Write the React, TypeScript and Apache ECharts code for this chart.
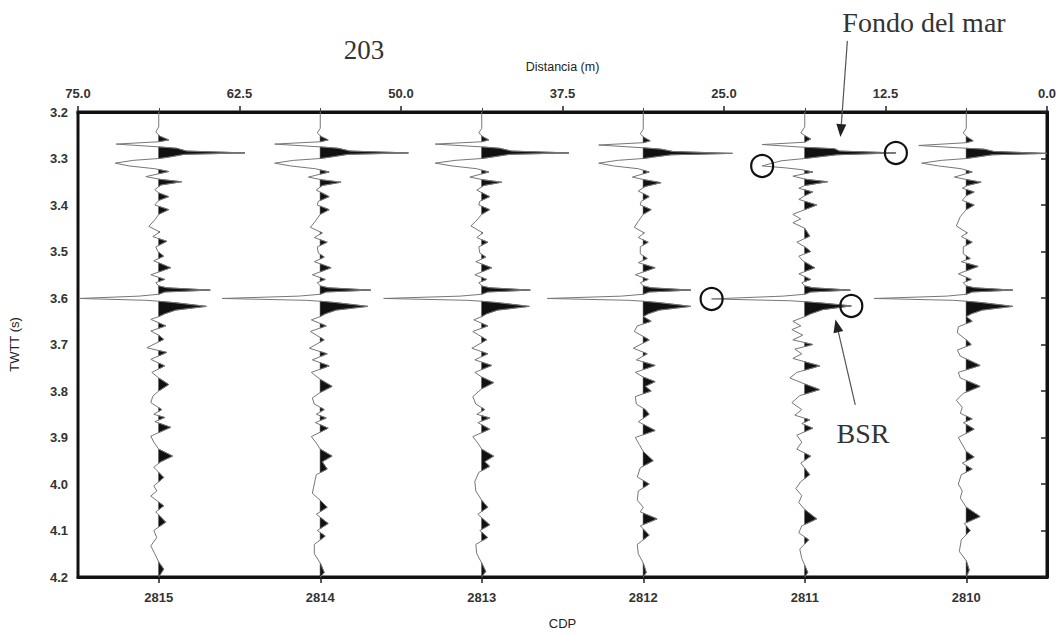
import React, { useEffect, useRef } from "react";
import * as echarts from "echarts";

// CDP positions of the traces (bottom axis)
const cdps = [2815, 2814, 2813, 2812, 2811, 2810];
const cdpRange = [2809.5, 2815.5];
// Distance axis (top)
const distanceRange = [0, 75];
const distanceStep = 12.5;
// Time axis
const twttRange = [3.2, 4.2];
const twttStep = 0.1;

// Trace samples: [TWTT (s), amplitude] (amplitude positive = black fill, to the right)
const trace2815: [number, number][] = [[3.2,0],[3.232,0],[3.243,-3],[3.252,1],[3.26,10],[3.264,0],[3.269,-43],[3.275,0],[3.278,18],[3.284,28],[3.288,87],[3.291,26],[3.297,10],[3.3,0],[3.304,-26],[3.31,-44],[3.316,-30],[3.322,-4],[3.328,10],[3.339,-13],[3.345,2],[3.35,23],[3.357,2],[3.367,-4],[3.374,0],[3.382,10],[3.39,0],[3.4,-4],[3.41,10],[3.42,0],[3.432,-4],[3.446,-10],[3.458,1],[3.468,-6],[3.478,8],[3.49,-3],[3.5,-1],[3.51,5],[3.52,-5],[3.535,12],[3.55,-8],[3.56,6],[3.567,-3],[3.574,0],[3.578,8],[3.583,52],[3.587,6],[3.592,0],[3.596,-20],[3.601,-80],[3.605,-12],[3.607,0],[3.61,16],[3.618,48],[3.626,17],[3.634,6],[3.64,0],[3.646,-8],[3.66,7],[3.671,-8],[3.68,0],[3.689,5],[3.707,-12],[3.717,8],[3.732,-8],[3.746,6],[3.76,-7],[3.772,0],[3.786,10],[3.8,0],[3.811,-6],[3.825,-8],[3.84,3],[3.85,-5],[3.857,6],[3.866,-4],[3.878,12],[3.897,-8],[3.91,-5],[3.925,0],[3.94,14],[3.952,2],[3.964,-5],[3.986,5],[4.004,-5],[4.015,-2],[4.026,-8],[4.047,5],[4.06,-3],[4.082,7],[4.1,-5],[4.115,-2],[4.133,-8],[4.15,-4],[4.168,0],[4.183,5],[4.2,0]];
const trace2814: [number, number][] = [[3.2,0],[3.235,0],[3.245,-3],[3.253,1],[3.26,8],[3.264,0],[3.269,-46],[3.275,0],[3.278,18],[3.284,30],[3.288,89],[3.291,28],[3.297,10],[3.3,0],[3.304,-27],[3.31,-46],[3.316,-30],[3.322,-5],[3.329,9],[3.34,-12],[3.346,2],[3.351,21],[3.358,2],[3.368,-4],[3.382,9],[3.392,-2],[3.4,-3],[3.41,9],[3.42,0],[3.435,-5],[3.448,-10],[3.46,2],[3.47,-6],[3.48,7],[3.49,-3],[3.503,-2],[3.512,4],[3.522,-6],[3.535,11],[3.55,-8],[3.56,5],[3.567,-3],[3.574,0],[3.578,8],[3.583,51],[3.587,6],[3.592,0],[3.596,-22],[3.601,-99],[3.605,-14],[3.607,0],[3.61,16],[3.618,48],[3.626,16],[3.634,5],[3.64,0],[3.647,-9],[3.66,6],[3.672,-10],[3.69,4],[3.708,-11],[3.72,7],[3.733,-8],[3.746,9],[3.76,-9],[3.775,0],[3.79,12],[3.803,0],[3.815,-8],[3.828,-6],[3.84,4],[3.85,-4],[3.858,6],[3.868,-5],[3.88,8],[3.898,-9],[3.912,-4],[3.925,0],[3.94,12],[3.952,2],[3.968,7],[3.98,-4],[4.0,-6],[4.02,-8],[4.035,0],[4.05,7],[4.065,-4],[4.085,8],[4.1,-3],[4.112,5],[4.13,-6],[4.15,-6],[4.17,0],[4.19,4],[4.2,0]];
const trace2813: [number, number][] = [[3.2,0],[3.235,0],[3.245,-3],[3.253,1],[3.26,7],[3.264,0],[3.269,-47],[3.275,0],[3.278,18],[3.284,30],[3.288,88],[3.291,28],[3.297,10],[3.3,0],[3.304,-27],[3.31,-47],[3.316,-30],[3.322,-5],[3.329,7],[3.34,-12],[3.346,2],[3.351,20],[3.358,2],[3.368,-5],[3.382,8],[3.392,-2],[3.4,-3],[3.41,8],[3.42,0],[3.435,-6],[3.445,-11],[3.46,1],[3.47,-5],[3.48,6],[3.49,-3],[3.503,-2],[3.512,4],[3.522,-6],[3.535,10],[3.55,-7],[3.56,5],[3.567,-3],[3.574,0],[3.578,8],[3.583,49],[3.587,6],[3.592,0],[3.596,-22],[3.601,-99],[3.605,-14],[3.607,0],[3.61,16],[3.618,48],[3.626,16],[3.634,5],[3.64,0],[3.647,-8],[3.66,6],[3.672,-9],[3.69,5],[3.708,-10],[3.72,6],[3.733,-7],[3.745,10],[3.76,-7],[3.77,0],[3.782,12],[3.795,0],[3.812,-9],[3.828,-6],[3.84,3],[3.85,-5],[3.858,8],[3.868,-4],[3.882,8],[3.898,-9],[3.912,-4],[3.925,0],[3.94,12],[3.952,3],[3.962,8],[3.975,-3],[3.995,-7],[4.015,-6],[4.035,0],[4.05,6],[4.065,-4],[4.088,8],[4.1,-2],[4.115,6],[4.13,-6],[4.15,-5],[4.17,0],[4.188,4],[4.2,0]];
const trace2812: [number, number][] = [[3.2,0],[3.237,0],[3.247,-3],[3.255,1],[3.262,7],[3.266,0],[3.271,-45],[3.277,0],[3.28,18],[3.285,30],[3.289,90],[3.292,28],[3.297,10],[3.3,0],[3.304,-26],[3.31,-45],[3.316,-30],[3.322,-5],[3.329,6],[3.34,-11],[3.346,2],[3.352,18],[3.36,2],[3.37,-5],[3.382,6],[3.392,-2],[3.4,-3],[3.41,8],[3.42,0],[3.435,-5],[3.448,-9],[3.46,1],[3.47,-5],[3.48,5],[3.49,-3],[3.505,-3],[3.515,4],[3.524,-5],[3.535,12],[3.55,-8],[3.56,5],[3.567,-3],[3.574,0],[3.578,8],[3.583,48],[3.587,6],[3.592,0],[3.596,-22],[3.601,-97],[3.605,-14],[3.607,0],[3.61,16],[3.618,48],[3.626,16],[3.634,5],[3.64,0],[3.65,8],[3.66,-6],[3.672,-9],[3.69,6],[3.708,-10],[3.72,4],[3.733,-7],[3.745,12],[3.76,-8],[3.77,0],[3.78,12],[3.79,2],[3.8,8],[3.812,-8],[3.828,-7],[3.84,2],[3.85,6],[3.866,-5],[3.885,12],[3.9,-8],[3.915,-4],[3.93,0],[3.95,10],[3.965,-3],[3.985,-6],[4.0,6],[4.015,-5],[4.035,-6],[4.05,0],[4.06,-3],[4.075,14],[4.09,-3],[4.11,6],[4.13,-6],[4.15,-5],[4.17,0],[4.19,3],[4.2,0]];
const trace2811: [number, number][] = [[3.2,0],[3.232,0],[3.245,-4],[3.252,1],[3.258,6],[3.265,0],[3.27,-43],[3.276,0],[3.279,30],[3.284,35],[3.288,92],[3.292,32],[3.297,12],[3.3,0],[3.305,-24],[3.316,-43],[3.32,-20],[3.324,-3],[3.329,8],[3.338,-12],[3.345,2],[3.35,23],[3.358,0],[3.364,-6],[3.372,8],[3.38,0],[3.388,-6],[3.4,12],[3.41,0],[3.42,-12],[3.43,-4],[3.438,-12],[3.45,0],[3.467,5],[3.48,-8],[3.49,0],[3.5,6],[3.51,-6],[3.52,-2],[3.535,10],[3.548,-6],[3.56,6],[3.567,-3],[3.574,0],[3.578,8],[3.583,46],[3.587,6],[3.592,0],[3.596,-22],[3.602,-94],[3.606,-14],[3.608,0],[3.611,18],[3.617,47],[3.625,18],[3.634,6],[3.64,0],[3.65,-12],[3.66,-4],[3.668,-13],[3.68,-2],[3.69,-12],[3.7,8],[3.71,-10],[3.72,-3],[3.73,-12],[3.746,15],[3.76,-8],[3.772,-15],[3.785,0],[3.797,15],[3.81,-5],[3.825,-13],[3.84,-3],[3.852,-10],[3.862,5],[3.87,-3],[3.88,8],[3.895,-8],[3.91,-3],[3.925,-8],[3.94,6],[3.955,-4],[3.98,5],[3.995,-4],[4.01,-9],[4.025,-3],[4.04,-6],[4.055,0],[4.075,12],[4.09,-3],[4.105,-6],[4.12,4],[4.14,-5],[4.16,-3],[4.175,0],[4.19,3],[4.2,0]];
const trace2810: [number, number][] = [[3.2,0],[3.235,0],[3.245,-3],[3.254,1],[3.262,7],[3.266,0],[3.272,-48],[3.278,0],[3.28,18],[3.285,28],[3.289,82],[3.292,26],[3.297,10],[3.3,0],[3.304,-25],[3.31,-45],[3.316,-28],[3.322,-5],[3.329,6],[3.34,-12],[3.346,2],[3.351,15],[3.358,1],[3.364,-4],[3.372,8],[3.38,0],[3.39,-4],[3.4,8],[3.41,0],[3.425,-6],[3.445,-10],[3.46,1],[3.468,-5],[3.48,6],[3.49,-3],[3.505,-3],[3.515,4],[3.522,-5],[3.532,12],[3.548,-8],[3.56,5],[3.567,-3],[3.574,0],[3.578,8],[3.583,47],[3.587,6],[3.592,0],[3.596,-20],[3.601,-93],[3.605,-13],[3.607,0],[3.61,16],[3.618,47],[3.626,16],[3.634,5],[3.64,0],[3.65,6],[3.662,-8],[3.675,-9],[3.69,0],[3.7,5],[3.712,-9],[3.725,-6],[3.745,14],[3.76,-8],[3.772,-6],[3.79,14],[3.805,-3],[3.82,-10],[3.835,-4],[3.848,-6],[3.86,6],[3.868,-3],[3.882,8],[3.9,-8],[3.915,-4],[3.93,0],[3.942,8],[3.955,-4],[3.968,6],[3.98,-5],[4.0,-8],[4.015,-4],[4.03,-6],[4.05,0],[4.07,14],[4.085,-2],[4.1,4],[4.12,-5],[4.145,-7],[4.165,0],[4.185,3],[4.2,0]];

const traces = [trace2815, trace2814, trace2813, trace2812, trace2811, trace2810];

// amplitude -> CDP offset
const GAIN = 1 / 163;

// Highlighted picks (circles) on trace 2811: [cdp, twtt, amplitude]
const circlePicks: [number, number, number][] = [
  [2811, 3.288, 92],
  [2811, 3.316, -43],
  [2811, 3.602, -94],
  [2811, 3.617, 47],
];
// Arrows: [cdp, twtt, amp] tail -> tip
const arrows: { from: [number, number, number]; to: [number, number, number] }[] = [
  { from: [2811, 3.047, 43], to: [2811, 3.254, 36] },
  { from: [2811, 3.83, 51], to: [2811, 3.646, 31] },
];

const FONT = '"Liberation Sans", Arial, Helvetica, sans-serif';
const SERIF = '"Liberation Serif", "Times New Roman", serif';

export default function App() {
  const ref = useRef<HTMLDivElement>(null);
  useEffect(() => {
    if (!ref.current) return;
    const chart = echarts.init(ref.current, null, { renderer: "svg" });

    const renderItem = (params: any, api: any) => {
      const cdp = api.value(0);
      const idx = api.value(2);
      const pts = traces[idx];
      const P = (t: number, a: number) => api.coord([cdp - a * GAIN, t]);
      const line = pts.map(([t, a]) => P(t, a));
      const polys: number[][][] = [];
      let cur: number[][] | null = null;
      for (let k = 0; k < pts.length; k++) {
        const [t, a] = pts[k];
        if (k > 0) {
          const [t0, a0] = pts[k - 1];
          if ((a0 > 0) !== (a > 0)) {
            const f = a0 / (a0 - a);
            const tc = t0 + f * (t - t0);
            const p = P(tc, 0);
            if (a0 > 0) {
              if (cur) { cur.push(p); polys.push(cur); }
              cur = null;
            } else {
              cur = [p];
            }
          }
        }
        if (a > 0) {
          if (!cur) cur = [P(t, 0)];
          cur.push(P(t, a));
        }
      }
      if (cur) { cur.push(P(pts[pts.length - 1][0], 0)); polys.push(cur); }
      const children: any[] = polys.map((poly) => ({
        type: "polygon",
        shape: { points: poly },
        style: { fill: "#111", stroke: "#111", lineWidth: 0.6 },
      }));
      children.push({
        type: "polyline",
        shape: { points: line },
        style: { stroke: "#777", lineWidth: 1, fill: null },
      });
      return { type: "group", children };
    };

    const tickLabel = { fontFamily: FONT, fontSize: 13, fontWeight: "bold", color: "#333" };
    const nameStyle = { fontFamily: FONT, fontSize: 13, color: "#222" };

    const option: any = {
      animation: false,
      backgroundColor: "#fff",
      grid: { left: 68, right: 17, top: 112, bottom: 57, show: true, borderColor: "#111", borderWidth: 3 },
      xAxis: [
        {
          type: "value",
          min: cdpRange[0],
          max: cdpRange[1],
          inverse: true,
          position: "bottom",
          name: "CDP",
          nameLocation: "middle",
          nameGap: 40,
          nameTextStyle: nameStyle,
          axisLine: { show: true, lineStyle: { color: "#111", width: 3 } },
          axisTick: { show: true, customValues: cdps, length: 6, lineStyle: { color: "#222", width: 1.5 } },
          axisLabel: { customValues: cdps, formatter: (v: number) => String(Math.round(v)), ...tickLabel, margin: 14 },
          splitLine: { show: false },
        },
        {
          type: "value",
          min: distanceRange[0],
          max: distanceRange[1],
          interval: distanceStep,
          inverse: true,
          position: "top",
          name: "Distancia (m)",
          nameLocation: "middle",
          nameGap: 39,
          nameTextStyle: { ...nameStyle, fontSize: 12.5 },
          axisLine: { show: true, lineStyle: { color: "#111", width: 3 } },
          axisTick: { show: true, length: 6, lineStyle: { color: "#222", width: 1.5 } },
          minorTick: { show: true, splitNumber: 2, length: 4, lineStyle: { color: "#444", width: 1 } },
          axisLabel: { formatter: (v: number) => v.toFixed(1), ...tickLabel, margin: 12 },
          splitLine: { show: false },
          minorSplitLine: { show: false },
        },
      ],
      yAxis: [
        {
          type: "value",
          min: twttRange[0],
          max: twttRange[1],
          interval: twttStep,
          inverse: true,
          name: "TWTT (s)",
          nameLocation: "middle",
          nameGap: 57,
          nameTextStyle: nameStyle,
          axisLine: { show: true, lineStyle: { color: "#111", width: 3 } },
          axisTick: { show: true, length: 6, lineStyle: { color: "#222", width: 1.5 } },
          axisLabel: { formatter: (v: number) => v.toFixed(1), ...tickLabel, margin: 10 },
          splitLine: { show: false },
        },
      ],
      series: [
        {
          type: "custom",
          xAxisIndex: 0,
          yAxisIndex: 0,
          clip: true,
          renderItem,
          encode: { x: 0, y: 1 },
          data: cdps.map((c, i) => [c, 3.7, i]),
        },
      ],
    };
    chart.setOption(option);

    const px = (c: number, t: number, a: number) =>
      chart.convertToPixel({ xAxisIndex: 0, yAxisIndex: 0 }, [c - a * GAIN, t]) as number[];

    const graphics: any[] = [];
    circlePicks.forEach(([c, t, a]) => {
      const [x, y] = px(c, t, a);
      graphics.push({
        type: "circle",
        shape: { cx: x, cy: y, r: 11 },
        style: { fill: "none", stroke: "#111", lineWidth: 2.2 },
        z: 100,
      });
    });
    arrows.forEach(({ from, to }) => {
      const [x1, y1] = px(from[0], from[1], from[2]);
      const [x2, y2] = px(to[0], to[1], to[2]);
      const dx = x2 - x1, dy = y2 - y1;
      const len = Math.sqrt(dx * dx + dy * dy);
      const ux = dx / len, uy = dy / len;
      const hl = 13, hw = 5;
      const bx = x2 - ux * hl, by = y2 - uy * hl;
      graphics.push({
        type: "line",
        shape: { x1, y1, x2: bx, y2: by },
        style: { stroke: "#555", lineWidth: 1.2 },
        z: 100,
      });
      graphics.push({
        type: "polygon",
        shape: { points: [[x2, y2], [bx - uy * hw, by + ux * hw], [bx + uy * hw, by - ux * hw]] },
        style: { fill: "#222" },
        z: 100,
      });
    });
    graphics.push(
      { type: "text", x: 364, y: 50, style: { text: "203", fontFamily: SERIF, fontSize: 27, fill: "#333", align: "center", verticalAlign: "middle" }, z: 100 },
      { type: "text", x: 924, y: 22, style: { text: "Fondo del mar", fontFamily: SERIF, fontSize: 28, fill: "#333", align: "center", verticalAlign: "middle" }, z: 100 },
      { type: "text", x: 863, y: 433, style: { text: "BSR", fontFamily: SERIF, fontSize: 28, fill: "#333", align: "center", verticalAlign: "middle" }, z: 100 }
    );
    chart.setOption({ graphic: graphics });

    return () => chart.dispose();
  }, []);

  return (
    <div
      ref={ref}
      style={{ position: "fixed", left: 0, top: 0, width: 1064, height: 635, background: "#fff" }}
    />
  );
}
